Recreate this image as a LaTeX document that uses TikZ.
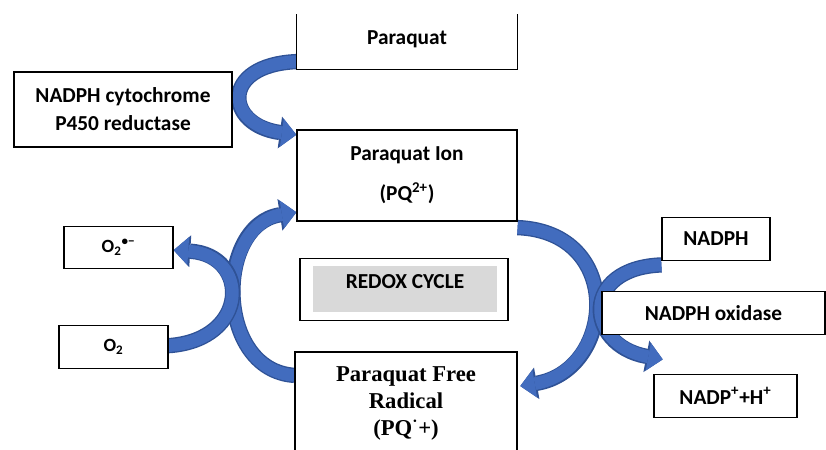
\documentclass[tikz,border=0pt]{standalone}
\usepackage{fontspec}
\setmainfont{Carlito}
\newfontfamily\radfont{Liberation Serif}
\usetikzlibrary{arrows.meta,backgrounds}

\definecolor{arrowblue}{RGB}{66,108,190}
\definecolor{arrowdark}{RGB}{47,82,150}
\definecolor{boxgray}{RGB}{217,217,217}

\tikzset{
  box/.style={draw, fill=white, line width=0.9pt, inner sep=0pt, align=center,
    font=\bfseries\fontsize{16}{21}\selectfont},
  smallbox/.style={box, minimum width=81.75pt, minimum height=32pt,
    font=\bfseries\fontsize{14}{17}\selectfont},
  bigarrow/.style={arrowblue, line width=9.5pt,
    -{Triangle[length=11pt 0 0, width=21pt 0 0, line width=0pt 0 0]},
    preaction={draw=arrowdark, line width=11.5pt,
      -{Triangle[length=12.5pt 0 0, width=24pt 0 0, line width=0pt 0 0]}}}
}

\begin{document}
\begin{tikzpicture}[x=0.75pt, y=0.75pt]
  \useasboundingbox (0,0) rectangle (826,450);

  % top of the chain
  \node[box, draw=none, minimum width=165pt, minimum height=40.5pt] (pq) at (407,408) {\raisebox{6pt}{Paraquat}};
  \draw[line width=0.9pt] (pq.north west) |- (pq.south east) -- (pq.north east);
  \node[box, minimum width=163.5pt, minimum height=56.25pt] (cyt) at (123,340.5) {NADPH cytochrome\\P450 reductase};
  \node[box, minimum width=165pt, minimum height=68.25pt] (ion) at (407,274.5) {Paraquat Ion\\[9pt](PQ\textsuperscript{2+})};

  % oxygen side
  \node[smallbox] (sup) at (118.5,202.5) {O\textsubscript{2}\textsuperscript{•−}};
  \node[smallbox] (otwo) at (113.5,103) {O\textsubscript{2}};

  % cycle label
  \node[box, minimum width=156pt, minimum height=47pt] (redoxbox) at (404,160.5) {};
  \node[fill=boxgray, minimum width=138pt, minimum height=34.5pt, inner sep=0pt] (redoxfill) at (405,160.5) {};
  \node[font=\bfseries\fontsize{16}{20}\selectfont] (redox) at ([yshift=6pt]redoxfill.center) {REDOX CYCLE};

  \node[box, minimum width=166.5pt, minimum height=77.25pt,
    font=\radfont\bfseries\fontsize{17}{20}\selectfont] (rad) at (406,46.5) {Paraquat Free\\Radical\\(PQ\textsuperscript{·}+)};

  % NADPH side
  \node[smallbox, minimum width=81pt, font=\bfseries\fontsize{16}{20}\selectfont] (nadph) at (716,211) {NADPH};
  \node[box, minimum width=167.25pt, minimum height=32pt] (ox) at (713.5,137) {NADPH oxidase};
  \node[smallbox, minimum width=107.25pt, font=\bfseries\fontsize{16}{20}\selectfont] (nadpp) at (725.5,54) {NADP\textsuperscript{+}+H\textsuperscript{+}};

  \begin{scope}[on background layer]
    % reductase
    \draw[bigarrow] ([yshift=6pt]pq.south west) .. controls (220,385) and (225,325) .. ([yshift=-4pt]ion.north west);
    % ion to radical
    \draw[bigarrow] ([yshift=-4.5pt]ion.south east) .. controls (625,218) and (615,80) .. ([xshift=2pt,yshift=-26pt]rad.north east);
    % radical back to ion
    \draw[bigarrow] ([yshift=-18pt]rad.north west) .. controls (215,80) and (215,225) .. ([yshift=7pt]ion.south west);
    % superoxide
    \draw[bigarrow] ([yshift=1pt]otwo.east) .. controls (250,110) and (250,195) .. ([yshift=-2pt]sup.east);
    % oxidase
    \draw[bigarrow] ([yshift=-3pt]nadph.south west) .. controls (580,182) and (585,105) .. ([xshift=7pt,yshift=11pt]nadpp.north west);
  \end{scope}
\end{tikzpicture}
\end{document}
